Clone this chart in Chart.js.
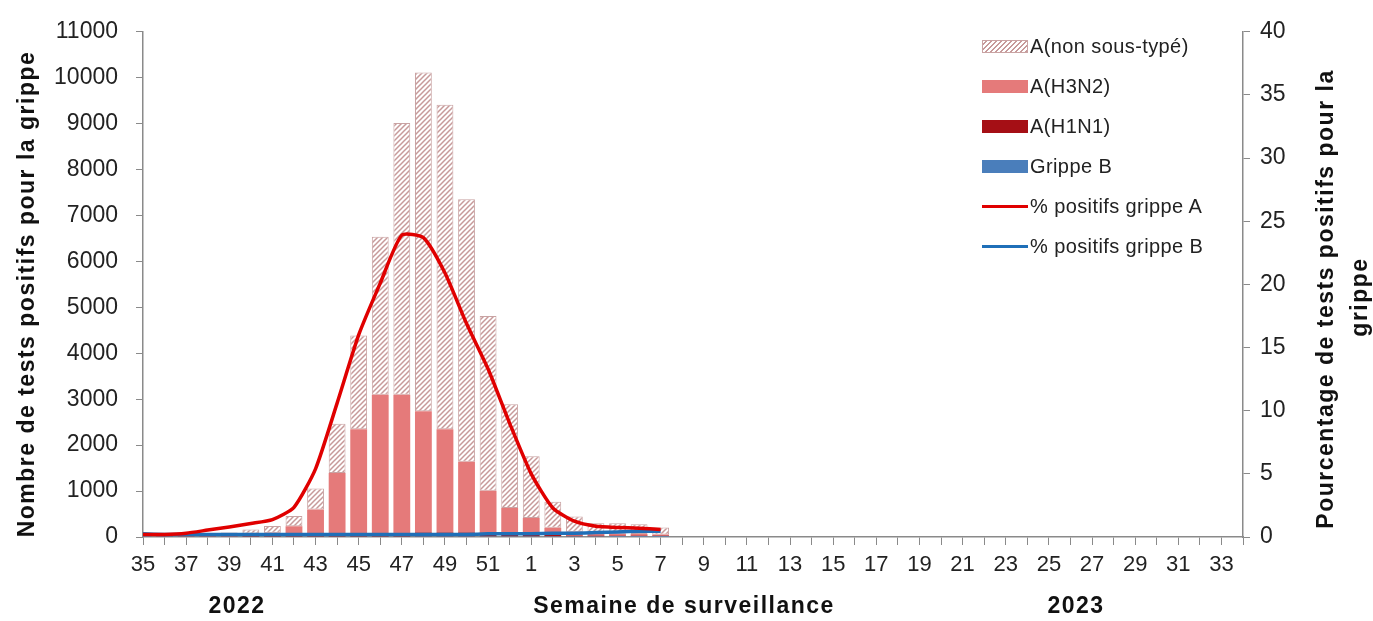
<!DOCTYPE html>
<html>
<head>
<meta charset="utf-8">
<script src="https://cdn.jsdelivr.net/npm/chart.js@4.4.1/dist/chart.umd.min.js"></script>
<style>
  html, body { margin: 0; padding: 0; background: #fff; }
  #wrap { position: relative; width: 1373px; height: 621px; }
  #legend { position: absolute; left: 982px; top: 26px; font: 20px "Liberation Sans", Arial, sans-serif; color: #222; letter-spacing: 0.4px; }
  .item { display: flex; align-items: center; height: 40px; }
  .sw { width: 46px; height: 13px; margin-right: 2px; box-sizing: border-box; }
  .ln { width: 46px; height: 3px; margin-right: 2px; }
</style>
</head>
<body>
<div id="wrap">
  <canvas id="myChart" width="1373" height="621"></canvas>
  <div id="legend"></div>
</div>
<script>
// semaines 35..52 (2022) puis 1..34 (2023)
const weeks = ['35','36','37','38','39','40','41','42','43','44','45','46','47','48','49','50','51','52',
  '1','2','3','4','5','6','7','8','9','10','11','12','13','14','15','16','17','18','19','20','21','22',
  '23','24','25','26','27','28','29','30','31','32','33','34'];

// nombre de tests positifs (semaines 35 à 7 seulement)
const grippeB = [20,5,10,10,10,10,10,10,10,10,10,10,10,15,15,15,15,15,15,15,15,15,20,20,20];
const h1n1 = [10,5,5,5,5,10,10,15,20,30,35,45,75,85,85,85,75,55,45,30,20,15,10,10,10];
const h3n2 = [20,5,5,15,30,55,75,211,570,1355,2300,3045,3015,2640,2245,1540,915,561,352,159,80,50,40,35,25];
const nonSousType = [40,15,20,30,55,90,145,219,455,1072,2045,3435,5915,7372,7067,5715,3805,2262,1348,566,330,220,230,215,150];

// pourcentage de tests positifs
const pctA = [0.2,0.2,0.3,0.55,0.8,1.07,1.38,2.35,5.4,10.6,16.0,20.1,23.9,23.7,20.9,16.9,13.3,9.0,5.0,2.3,1.25,0.85,0.75,0.7,0.6];
const pctB = [0.25,0.2,0.2,0.2,0.2,0.2,0.2,0.2,0.2,0.2,0.2,0.2,0.2,0.2,0.2,0.2,0.25,0.25,0.25,0.3,0.3,0.35,0.4,0.45,0.45];

const FONT = '"Liberation Sans", Arial, sans-serif';
const AXIS = '#8a8a8a';

// motif hachuré pour A(non sous-typé)
function makeHatch() {
  const c = document.createElement('canvas');
  c.width = 5; c.height = 5;
  const g = c.getContext('2d');
  g.fillStyle = '#fff';
  g.fillRect(0, 0, 5, 5);
  g.strokeStyle = '#c79a9a';
  g.lineWidth = 1.5;
  g.beginPath();
  g.moveTo(-1, 6); g.lineTo(6, -1);
  g.moveTo(-4, 4); g.lineTo(4, -4);
  g.moveTo(1, 9); g.lineTo(9, 1);
  g.stroke();
  return g.createPattern(c, 'repeat');
}

const titles = {
  id: 'titles',
  afterDraw(chart) {
    const ctx = chart.ctx;
    ctx.save();
    ctx.fillStyle = '#111';
    ctx.font = 'bold 23px ' + FONT;
    if ('letterSpacing' in ctx) ctx.letterSpacing = '1.5px';
    ctx.textAlign = 'center';
    ctx.textBaseline = 'middle';
    ctx.fillText('Semaine de surveillance', 684, 607);
    ctx.fillText('2022', 237, 607);
    ctx.fillText('2023', 1076, 607);

    ctx.save();
    ctx.translate(28, 294);
    ctx.rotate(-Math.PI / 2);
    ctx.fillText('Nombre de tests positifs pour la grippe', 0, 0);
    ctx.restore();

    ctx.save();
    ctx.translate(1327, 299);
    ctx.rotate(-Math.PI / 2);
    ctx.fillText('Pourcentage de tests positifs pour la', 0, 0);
    ctx.restore();

    ctx.save();
    ctx.translate(1361, 297);
    ctx.rotate(-Math.PI / 2);
    ctx.fillText('grippe', 0, 0);
    ctx.restore();
    ctx.restore();
  }
};

const hatch = makeHatch();
const barCommon = { type: 'bar', yAxisID: 'y', stack: 's', order: 2, barPercentage: 0.78, categoryPercentage: 1, clip: 0 };

const ctx = document.getElementById('myChart');
new Chart(ctx, {
  data: {
    labels: weeks,
    datasets: [
      { ...barCommon, label: 'Grippe B', data: grippeB, backgroundColor: '#4a7ebb' },
      { ...barCommon, label: 'A(H1N1)', data: h1n1, backgroundColor: '#a50f15' },
      { ...barCommon, label: 'A(H3N2)', data: h3n2, backgroundColor: '#e57a7a' },
      { ...barCommon, label: 'A(non sous-typé)', data: nonSousType, backgroundColor: hatch,
        borderColor: '#c9a3a3', borderWidth: 1, borderSkipped: false },
      { type: 'line', label: '% positifs grippe A', data: pctA, yAxisID: 'y1', order: 0,
        borderColor: '#e00000', borderWidth: 3.5, pointRadius: 0, tension: 0.2, fill: false },
      { type: 'line', label: '% positifs grippe B', data: pctB, yAxisID: 'y1', order: 1,
        borderColor: '#1f6fb8', borderWidth: 3.5, pointRadius: 0, tension: 0.2, fill: false }
    ]
  },
  options: {
    responsive: false,
    animation: false,
    layout: { padding: { top: 26, left: 0, right: 0, bottom: 0 } },
    plugins: { legend: { display: false }, tooltip: { enabled: false }, title: { display: false } },
    scales: {
      x: {
        stacked: true,
        offset: false,
        grid: { offset: false, display: true, drawOnChartArea: false, drawTicks: true, tickLength: 8, color: AXIS },
        border: { color: AXIS, width: 1.5 },
        ticks: {
          autoSkip: false, maxRotation: 0, padding: 7, color: '#222',
          font: { family: FONT, size: 22 },
          callback: (v, i) => (i % 2 === 0 ? weeks[i] : '')
        },
        afterFit: s => { s.height = 84; }
      },
      y: {
        stacked: true,
        position: 'left',
        min: 0, max: 11000,
        grid: { display: true, drawOnChartArea: false, tickLength: 7, color: AXIS },
        border: { color: AXIS, width: 1.5 },
        ticks: { stepSize: 1000, padding: 18, color: '#222', font: { family: FONT, size: 23 },
          callback: v => String(v) },
        afterFit: s => { s.width = 143; }
      },
      y1: {
        position: 'right',
        min: 0, max: 40,
        grid: { display: true, drawOnChartArea: false, tickLength: 7, color: AXIS },
        border: { color: AXIS, width: 1.5 },
        ticks: { stepSize: 5, padding: 10, color: '#222', font: { family: FONT, size: 23 },
          callback: v => String(v) },
        afterFit: s => { s.width = 130; }
      }
    }
  },
  plugins: [titles]
});

// légende dans la zone du graphique
const legendItems = [
  { label: 'A(non sous-typé)', style: 'sw', bg: 'repeating-linear-gradient(135deg, #fff 0 2px, #c79a9a 2px 3.5px)', border: '1px solid #c9a3a3' },
  { label: 'A(H3N2)', style: 'sw', bg: '#e57a7a' },
  { label: 'A(H1N1)', style: 'sw', bg: '#a50f15' },
  { label: 'Grippe B', style: 'sw', bg: '#4a7ebb' },
  { label: '% positifs grippe A', style: 'ln', bg: '#e00000' },
  { label: '% positifs grippe B', style: 'ln', bg: '#1f6fb8' }
];
const legend = document.getElementById('legend');
legendItems.forEach(it => {
  const row = document.createElement('div');
  row.className = 'item';
  const sw = document.createElement('span');
  sw.className = it.style;
  sw.style.background = it.bg;
  if (it.border) sw.style.border = it.border;
  const tx = document.createElement('span');
  tx.textContent = it.label;
  row.appendChild(sw);
  row.appendChild(tx);
  legend.appendChild(row);
});
</script>
</body>
</html>
